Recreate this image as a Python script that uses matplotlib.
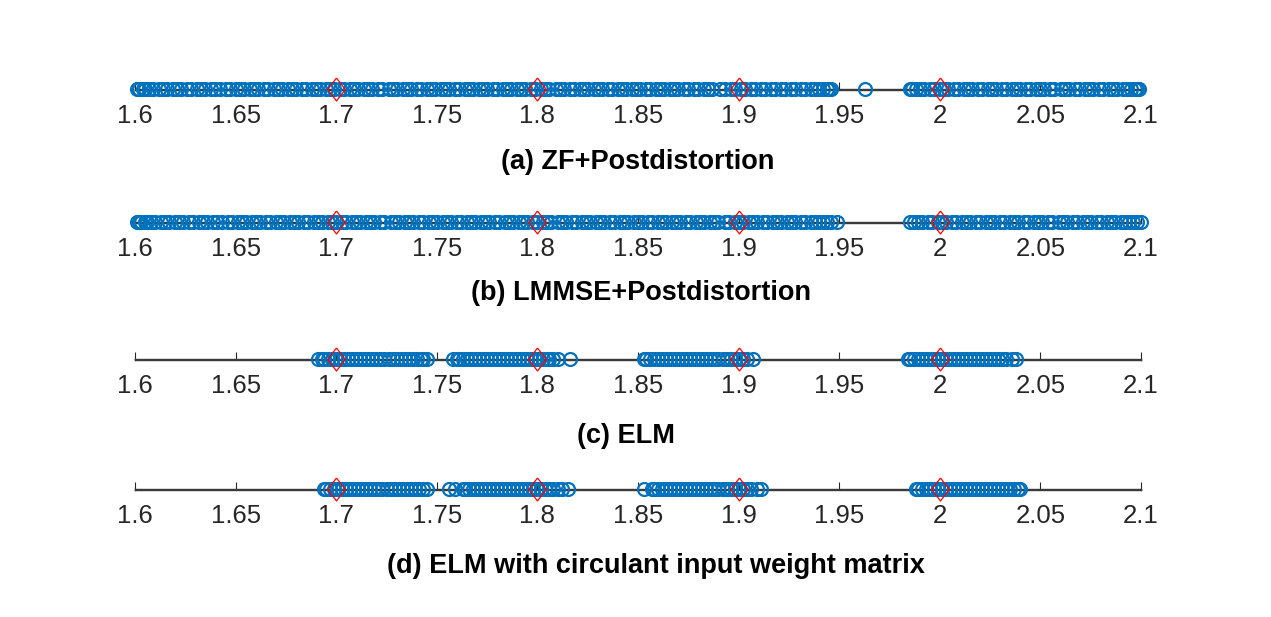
import matplotlib.pyplot as plt

plt.rcParams['font.family'] = ['Liberation Sans', 'DejaVu Sans']

tick_pos = [1.6, 1.65, 1.7, 1.75, 1.8, 1.85, 1.9, 1.95, 2.0, 2.05, 2.1]
tick_labels = ['1.6', '1.65', '1.7', '1.75', '1.8', '1.85', '1.9', '1.95', '2', '2.05', '2.1']

# ideal constellation points (red diamonds)
ref_points = [1.7, 1.8, 1.9, 2.0]

# (a) ZF + postdistortion
zf_post = [
    1.601, 1.602, 1.604, 1.605, 1.607, 1.609, 1.612, 1.614, 1.616, 1.619,
    1.621, 1.623, 1.626, 1.628, 1.631, 1.633, 1.635, 1.638, 1.640, 1.642,
    1.645, 1.647, 1.650, 1.652, 1.654, 1.657, 1.659, 1.661, 1.664, 1.666,
    1.669, 1.671, 1.673, 1.676, 1.678, 1.680, 1.683, 1.685, 1.688, 1.690,
    1.692, 1.695, 1.697, 1.699, 1.702, 1.704, 1.707, 1.709, 1.711, 1.714,
    1.716, 1.718, 1.721, 1.723, 1.726, 1.728, 1.730, 1.733, 1.735, 1.737,
    1.740, 1.742, 1.745, 1.747, 1.749, 1.752, 1.754, 1.756, 1.759, 1.761,
    1.764, 1.766, 1.768, 1.771, 1.773, 1.775, 1.778, 1.780, 1.783, 1.785,
    1.787, 1.790, 1.792, 1.794, 1.797, 1.799, 1.802, 1.804, 1.806, 1.809,
    1.811, 1.813, 1.816, 1.818, 1.821, 1.823, 1.825, 1.828, 1.830, 1.832,
    1.835, 1.837, 1.840, 1.842, 1.844, 1.847, 1.849, 1.851, 1.854, 1.856,
    1.859, 1.861, 1.863, 1.866, 1.868, 1.870, 1.873, 1.875, 1.878, 1.880,
    1.883, 1.885, 1.887, 1.891, 1.893, 1.896, 1.898, 1.901, 1.903, 1.906,
    1.908, 1.911, 1.913, 1.916, 1.918, 1.921, 1.923, 1.926, 1.928, 1.931,
    1.933, 1.936, 1.938, 1.940, 1.942, 1.944, 1.945, 1.946,
    1.963,
    1.985, 1.986, 1.988, 1.990, 1.992, 1.995, 1.997, 2.000, 2.002, 2.004,
    2.007, 2.009, 2.012, 2.014, 2.016, 2.019, 2.021, 2.024, 2.026, 2.028,
    2.031, 2.033, 2.036, 2.038, 2.040, 2.043, 2.045, 2.048, 2.050, 2.052,
    2.055, 2.057, 2.060, 2.062, 2.064, 2.067, 2.069, 2.072, 2.074, 2.076,
    2.079, 2.081, 2.084, 2.086, 2.088, 2.091, 2.093, 2.095, 2.097, 2.098, 2.099,
]

# (b) LMMSE + postdistortion
lmmse_post = [
    1.601, 1.602, 1.603, 1.605, 1.606, 1.608, 1.610, 1.613, 1.615, 1.617,
    1.620, 1.622, 1.624, 1.627, 1.629, 1.632, 1.634, 1.636, 1.639, 1.641,
    1.643, 1.646, 1.648, 1.651, 1.653, 1.655, 1.658, 1.660, 1.662, 1.665,
    1.667, 1.670, 1.672, 1.674, 1.677, 1.679, 1.681, 1.684, 1.686, 1.689,
    1.691, 1.693, 1.696, 1.698, 1.700, 1.703, 1.705, 1.708, 1.710, 1.712,
    1.715, 1.717, 1.719, 1.722, 1.724, 1.727, 1.729, 1.731, 1.734, 1.736,
    1.738, 1.741, 1.743, 1.746, 1.748, 1.750, 1.753, 1.755, 1.757, 1.760,
    1.762, 1.765, 1.767, 1.769, 1.772, 1.774, 1.776, 1.779, 1.781, 1.784,
    1.786, 1.788, 1.791, 1.793, 1.795, 1.798, 1.800, 1.803, 1.805, 1.807,
    1.810, 1.812, 1.814, 1.817, 1.819, 1.822, 1.824, 1.826, 1.829, 1.831,
    1.833, 1.836, 1.838, 1.841, 1.843, 1.845, 1.848, 1.850, 1.852, 1.855,
    1.857, 1.860, 1.862, 1.864, 1.867, 1.869, 1.871, 1.874, 1.876, 1.879,
    1.881, 1.883, 1.886, 1.888, 1.890, 1.893, 1.895, 1.898, 1.900, 1.902,
    1.905, 1.907, 1.909, 1.912, 1.914, 1.917, 1.919, 1.921, 1.924, 1.926,
    1.928, 1.931, 1.933, 1.936, 1.938, 1.940, 1.942, 1.944, 1.946, 1.949,
    1.985, 1.987, 1.989, 1.991, 1.994, 1.996, 1.999, 2.001, 2.003, 2.006,
    2.008, 2.011, 2.013, 2.015, 2.018, 2.020, 2.023, 2.025, 2.027, 2.030,
    2.032, 2.035, 2.037, 2.039, 2.042, 2.044, 2.047, 2.049, 2.051, 2.054,
    2.056, 2.059, 2.061, 2.063, 2.066, 2.068, 2.071, 2.073, 2.075, 2.078,
    2.080, 2.083, 2.085, 2.087, 2.090, 2.092, 2.094, 2.096, 2.098, 2.100,
]

# (c) ELM
elm = [
    1.691, 1.693, 1.694, 1.696, 1.698, 1.700, 1.702, 1.704, 1.706, 1.708,
    1.710, 1.712, 1.714, 1.716, 1.718, 1.720, 1.722, 1.724, 1.726, 1.728,
    1.730, 1.732, 1.734, 1.736, 1.738, 1.740, 1.742, 1.743, 1.745,
    1.758, 1.760, 1.761, 1.763, 1.765, 1.767, 1.769, 1.771, 1.773, 1.775,
    1.777, 1.779, 1.781, 1.783, 1.785, 1.787, 1.789, 1.791, 1.793, 1.795,
    1.797, 1.799, 1.801, 1.803, 1.805, 1.806, 1.808, 1.810, 1.816,
    1.853, 1.854, 1.856, 1.858, 1.860, 1.862, 1.864, 1.866, 1.868, 1.870,
    1.872, 1.874, 1.876, 1.878, 1.880, 1.882, 1.884, 1.886, 1.888, 1.890,
    1.892, 1.894, 1.896, 1.898, 1.900, 1.902, 1.904, 1.907,
    1.984, 1.985, 1.987, 1.989, 1.991, 1.993, 1.995, 1.997, 1.999, 2.001,
    2.003, 2.005, 2.007, 2.009, 2.011, 2.013, 2.015, 2.017, 2.019, 2.021,
    2.023, 2.025, 2.027, 2.029, 2.031, 2.033, 2.036, 2.038,
]

# (d) ELM with circulant input weight matrix
elm_circ = [
    1.694, 1.695, 1.697, 1.699, 1.701, 1.703, 1.705, 1.707, 1.709, 1.711,
    1.713, 1.715, 1.717, 1.719, 1.721, 1.723, 1.725, 1.727, 1.729, 1.731,
    1.733, 1.735, 1.737, 1.739, 1.741, 1.743, 1.745,
    1.756, 1.759, 1.763, 1.764, 1.766, 1.768, 1.770, 1.772, 1.774, 1.776,
    1.778, 1.780, 1.782, 1.784, 1.786, 1.788, 1.790, 1.792, 1.794, 1.796,
    1.798, 1.800, 1.802, 1.804, 1.806, 1.808, 1.810, 1.812, 1.815,
    1.853, 1.857, 1.858, 1.860, 1.862, 1.864, 1.866, 1.868, 1.870, 1.872,
    1.874, 1.876, 1.878, 1.880, 1.882, 1.884, 1.886, 1.888, 1.890, 1.892,
    1.894, 1.896, 1.898, 1.900, 1.902, 1.904, 1.906, 1.909, 1.911,
    1.988, 1.989, 1.991, 1.993, 1.995, 1.997, 1.999, 2.001, 2.003, 2.005,
    2.007, 2.009, 2.011, 2.013, 2.015, 2.017, 2.019, 2.021, 2.023, 2.025,
    2.027, 2.029, 2.031, 2.033, 2.035, 2.037, 2.039, 2.040,
]

titles = ['(a) ZF+Postdistortion', '(b) LMMSE+Postdistortion',
          '(c) ELM', '(d) ELM with circulant input weight matrix']

W, H = 1271, 617
fig = plt.figure(figsize=(W / 100, H / 100), dpi=100)

# pixel positions: axis line centre, title centre (x, y)
axis_y = [89, 222, 359, 489]
title_xy = [(638, 162), (641, 293), (626, 436), (656, 566)]

diamond = [(0, 1), (0.77, 0), (0, -1), (-0.77, 0), (0, 1)]

for vals, title, ay, (tx, ty) in zip([zf_post, lmmse_post, elm, elm_circ], titles, axis_y, title_xy):
    ax = fig.add_axes([135 / W, 1 - (ay + 0.5) / H, 1006 / W, 1.0 / H])
    ax.plot(vals, [0] * len(vals), 'o', mfc='none', mec='#0072BD', ms=9.3, mew=1.6,
            clip_on=False, zorder=3)
    ax.plot(ref_points, [0] * len(ref_points), ls='none', marker=diamond, mfc='none',
            mec='red', ms=16.5, mew=0.9, clip_on=False, zorder=4)
    ax.set_xlim(1.6, 2.1)
    ax.set_ylim(-1, 1)
    ax.set_yticks([])
    ax.set_xticks(tick_pos, tick_labels)
    ax.tick_params(axis='x', direction='in', length=6, width=0.8, labelsize=18.5,
                   colors='#262626', pad=10.5)
    ax.set_axisbelow(True)
    for s in ax.spines.values():
        s.set_color('#3a3a3a')
        s.set_linewidth(1.0)
    fig.text(tx / W, 1 - ty / H, title, ha='center', va='center',
             fontsize=19.5, fontweight='bold')

fig.savefig('out.png', dpi=100)
